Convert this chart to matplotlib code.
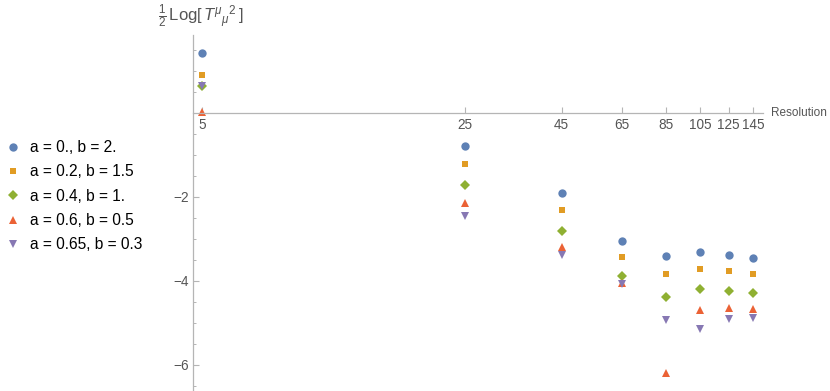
import matplotlib
matplotlib.use("Agg")
import matplotlib.pyplot as plt
from matplotlib.ticker import FixedLocator, FixedFormatter, MultipleLocator, NullLocator

plt.rcParams['font.family'] = ['Liberation Sans', 'DejaVu Sans']
plt.rcParams['mathtext.fontset'] = 'custom'
plt.rcParams['mathtext.rm'] = 'Liberation Sans'
plt.rcParams['mathtext.it'] = 'Liberation Sans:italic'

resolution = [5, 25, 45, 65, 85, 105, 125, 145]
labels = ["a = 0., b = 2.", "a = 0.2, b = 1.5", "a = 0.4, b = 1.",
          "a = 0.6, b = 0.5", "a = 0.65, b = 0.3"]
s1 = [1.41, -0.80, -1.92, -3.06, -3.42, -3.32, -3.38, -3.46]
s2 = [0.89, -1.22, -2.33, -3.44, -3.85, -3.73, -3.77, -3.84]
s3 = [0.64, -1.73, -2.83, -3.88, -4.40, -4.21, -4.24, -4.30]
s4 = [0.02, -2.14, -3.20, -4.05, -6.21, -4.71, -4.65, -4.67]
s5 = [0.64, -2.46, -3.38, -4.09, -4.94, -5.16, -4.92, -4.89]
series = [s1, s2, s3, s4, s5]
colors = ["#5E81B5", "#E19C24", "#8FB032", "#EB6235", "#8778B3"]
markers = ["o", "s", "D", "^", "v"]
msizes = [6.0, 4.2, 5.0, 6.0, 6.0]

fig = plt.figure(figsize=(8.3, 3.91), dpi=100)
ax = fig.add_axes([193/830, 0.0, (763-193)/830, 1 - 35/391])

handles = []
for ys, c, m, ms, lab in zip(series, colors, markers, msizes, labels):
    h, = ax.plot(resolution, ys, linestyle='none', marker=m, color=c,
                 markersize=ms, markeredgewidth=0, label=lab)
    handles.append(h)

ax.set_xscale('log')
ax.set_xlim(4.73, 154.2)
ax.set_ylim(-6.63, 1.85)

for side in ['top', 'right']:
    ax.spines[side].set_visible(False)
ax.spines['bottom'].set_position(('data', 0))
for side in ['left', 'bottom']:
    ax.spines[side].set_color('#b5b5b5')
    ax.spines[side].set_linewidth(0.9)

ax.xaxis.set_major_locator(FixedLocator(resolution))
ax.xaxis.set_major_formatter(FixedFormatter([str(r) for r in resolution]))
ax.xaxis.set_minor_locator(NullLocator())
ax.yaxis.set_major_locator(FixedLocator([-6, -4, -2]))
ax.yaxis.set_minor_locator(MultipleLocator(0.5))

ax.tick_params(axis='both', which='major', direction='in', length=4,
               width=0.8, color='#b5b5b5', labelcolor='#555555', labelsize=9.8)
ax.tick_params(axis='both', which='minor', direction='in', length=2.5,
               width=0.7, color='#b5b5b5')
ax.tick_params(axis='x', pad=4)
ax.tick_params(axis='y', pad=3)
ax.set_yticklabels(['\u22126', '\u22124', '\u22122'])

fig.text(771/830, 1 - 113/391, "Resolution", color='#555555', fontsize=8.5,
         ha='left', va='center')
fig.text(158/830, 1 - 16/391,
         r"$\frac{1}{2}\,\mathrm{Log}[\,T^{\mu}{}_{\mu}{}^{2}\,]$",
         color='#555555', fontsize=12, ha='left', va='center')

fig.legend(handles=handles, labels=labels, loc='upper left',
           bbox_to_anchor=(0.003, 1 - 137/391), frameon=False, fontsize=11.2,
           handlelength=1.0, handletextpad=0.55, labelspacing=0.6,
           borderaxespad=0.0, borderpad=0.2)

fig.savefig("out.png", dpi=100)
